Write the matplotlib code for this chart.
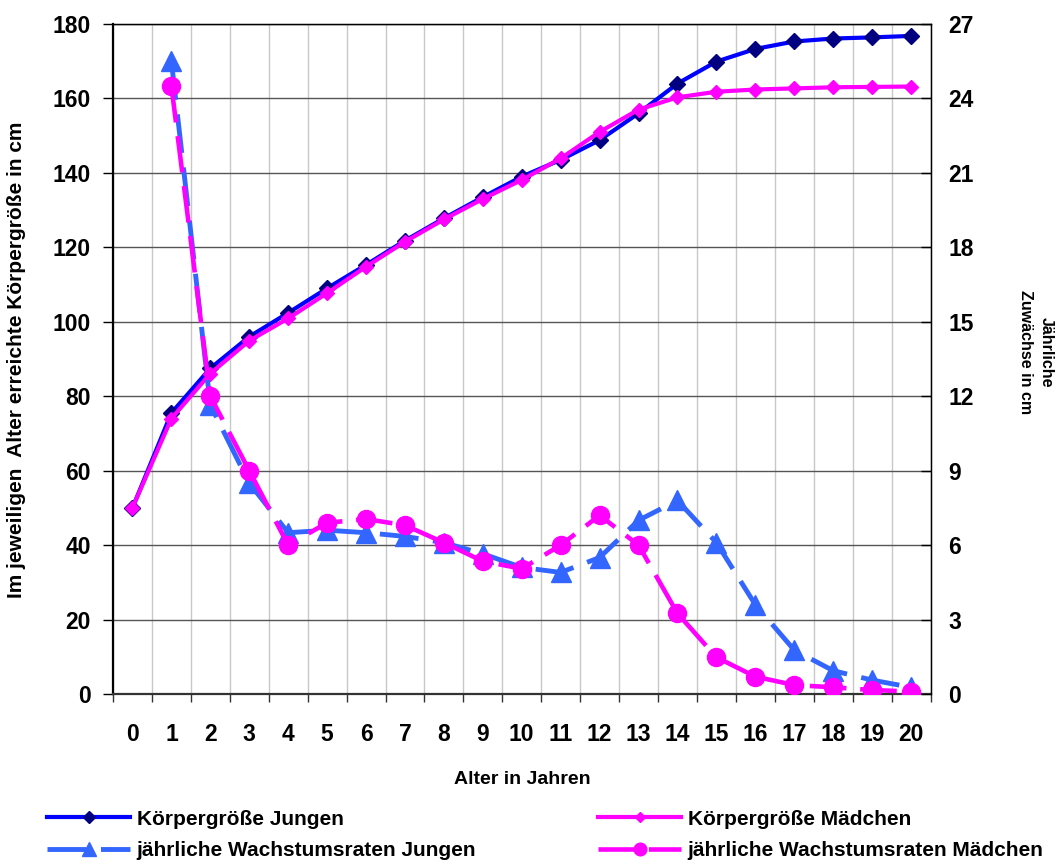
import matplotlib
matplotlib.use('Agg')
import matplotlib.pyplot as plt
from matplotlib.ticker import FixedLocator
import numpy as np

plt.rcParams['font.family'] = ['Liberation Sans', 'DejaVu Sans']
plt.rcParams['font.weight'] = 'bold'

# Alter in Jahren
alter = list(range(21))

# Körpergröße in cm (linke Achse)
groesse_jungen = [50, 75.5, 87.5, 96, 102.4, 109, 115.3, 121.8, 127.8, 133.5, 139,
                  143.5, 148.8, 156, 164, 169.9, 173.3, 175.3, 176.1, 176.4, 176.8]
groesse_maedchen = [50, 74, 86.1, 94.9, 100.9, 107.7, 114.8, 121.5, 127.5, 133, 138.1,
                    143.9, 151, 157, 160.3, 161.8, 162.4, 162.7, 163, 163.1, 163.2]

# jährliche Zuwächse in cm (rechte Achse), ab 1 Jahr
alter_rate = alter[1:]
rate_jungen = [25.5, 11.65, 8.5, 6.5, 6.6, 6.5, 6.35, 6.1, 5.65, 5.1,
               4.9, 5.5, 7.0, 7.8, 6.1, 3.6, 1.77, 0.94, 0.56, 0.27]
rate_maedchen = [24.5, 12.0, 9.0, 6.0, 6.9, 7.05, 6.8, 6.1, 5.35, 5.05,
                 6.0, 7.2, 6.0, 3.25, 1.48, 0.7, 0.36, 0.27, 0.16, 0.1]

links_ticks = list(range(0, 181, 20))
rechts_ticks = list(range(0, 28, 3))

W, H = 1060, 861
fig = plt.figure(figsize=(W / 100, H / 100), dpi=100)
ax = fig.add_axes([113 / W, 1 - 694 / H, (930.5 - 113) / W, (694 - 24) / H])
ax2 = ax.twinx()

l1, = ax.plot(alter, groesse_jungen, color='#0000FF', lw=3, marker='D', ms=8.5,
              mfc='#000080', mec='#000080', label='Körpergröße Jungen', zorder=3)
l2, = ax.plot(alter, groesse_maedchen, color='#FF00FF', lw=3, marker='D', ms=7,
              mfc='#FF00FF', mec='#FF00FF', label='Körpergröße Mädchen', zorder=4)

l3, = ax2.plot(alter_rate, rate_jungen, color='#3366FF', lw=3.5, marker='^', ms=14,
               mfc='#3366FF', mec='#3366FF', dashes=(8, 3),
               label='jährliche Wachstumsraten Jungen')
l4, = ax2.plot(alter_rate, rate_maedchen, color='#FF00FF', lw=3.3, marker='o', ms=13,
               mfc='#FF00FF', mec='#FF00FF', dashes=(8, 3),
               label='jährliche Wachstumsraten Mädchen')

ax.set_xlim(-0.5, 20.5)
ax.set_ylim(0, 180)
ax2.set_ylim(0, 27)

# x-Achse: Beschriftung mittig, Striche an den Kategoriegrenzen
ax.set_xticks(alter)
ax.xaxis.set_minor_locator(FixedLocator(np.arange(-0.5, 21, 1)))
ax.tick_params(axis='x', which='major', length=0, pad=21, labelsize=16.5)
ax.tick_params(axis='x', which='minor', length=6, width=1, direction='out', color='#333333')
ax.set_yticks(links_ticks)
ax.tick_params(axis='y', which='major', length=7, width=1, direction='out', pad=9, labelsize=16.5)
ax2.set_yticks(rechts_ticks)
ax2.tick_params(axis='y', length=7, width=1, direction='in', pad=13, labelsize=16.5)

ax.grid(True, axis='x', which='minor', color='#C8C8C8', lw=1)
ax.grid(True, axis='y', which='major', color='#555555', lw=1)
ax.set_axisbelow(True)

for s in ['left', 'bottom']:
    ax.spines[s].set_linewidth(1.6)
    ax.spines[s].set_color('black')
ax.spines['bottom'].set_color('#333333')
for s in ['top', 'right']:
    ax.spines[s].set_linewidth(1)
ax2.spines['left'].set_visible(False)
ax2.spines['bottom'].set_visible(False)

fig.text(17 / W, 1 - 360 / H, 'Im jeweiligen  Alter erreichte Körpergröße in cm',
         rotation=90, ha='center', va='center', fontsize=15)
fig.text(522 / W, 1 - 780 / H, 'Alter in Jahren', ha='center', va='center', fontsize=14)
fig.text(1036 / W, 1 - 352 / H, 'Jährliche\nZuwächse in cm', rotation=270,
         ha='center', va='center', multialignment='center', fontsize=11.5, linespacing=1.45)

leg_kw = dict(frameon=False, fontsize=15, handlelength=4.0, handletextpad=0.3,
              labelspacing=0.6, borderpad=0, borderaxespad=0, markerscale=0.7,
              loc='center left')
fig.legend([l1, l3], [l1.get_label(), l3.get_label()],
           bbox_to_anchor=(47 / W, 1 - 835 / H), **leg_kw)
fig.legend([l2, l4], [l2.get_label(), l4.get_label()],
           bbox_to_anchor=(598 / W, 1 - 835 / H), **leg_kw)

fig.savefig('out.png', dpi=100)
